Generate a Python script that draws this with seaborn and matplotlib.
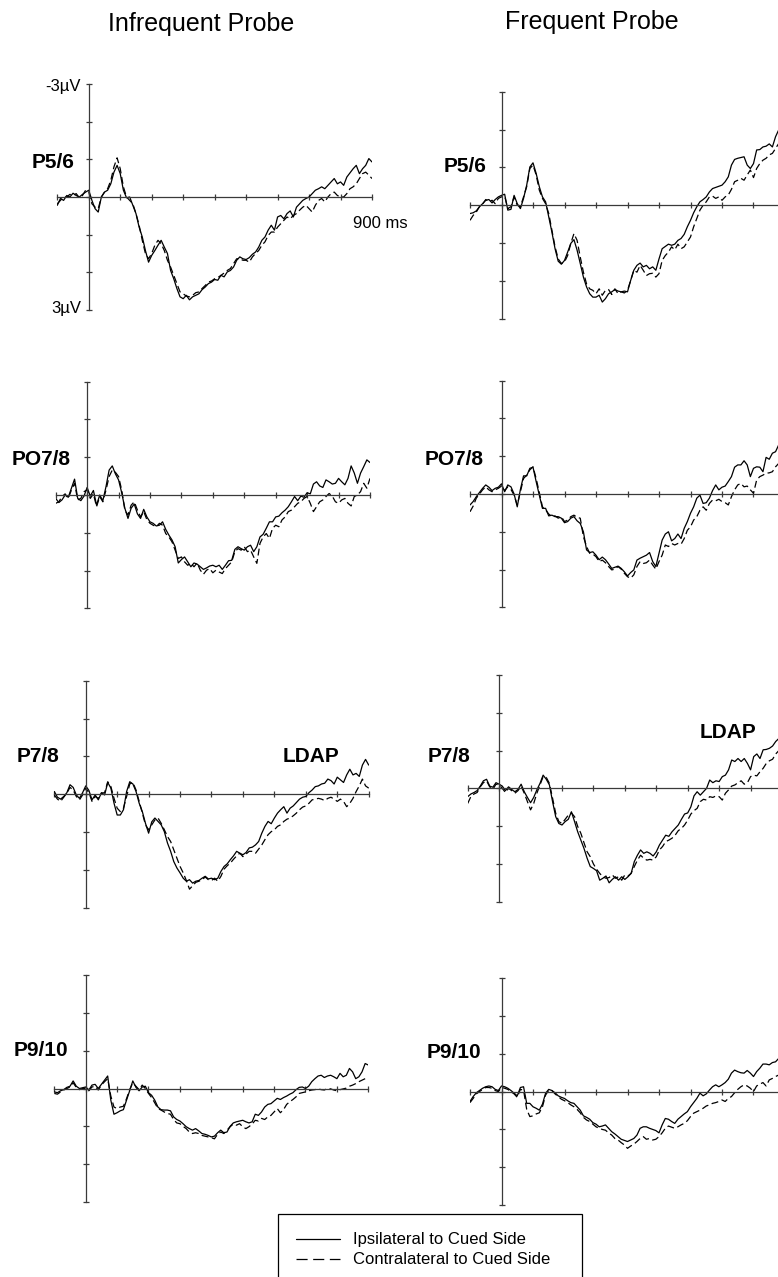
import matplotlib
matplotlib.use("Agg")
import matplotlib.pyplot as plt
from matplotlib.lines import Line2D
import pandas as pd
import seaborn as sns

# ---- data (µV, sampled every 10 ms from -100 to 900 ms) ----
TIME_MS = list(range(-100, 901, 10))

P56_INFREQ_IPSI = [
    0.22, 0.04, 0.09, -0.04, 0.0, -0.10, -0.04, 0.0, -0.07, -0.13,
    -0.18, 0.09, 0.31, 0.40, 0.0, -0.13, -0.18, -0.35, -0.66, -0.84,
    -0.62, -0.18, 0.02, 0.0, 0.22, 0.44, 0.80, 1.06, 1.42, 1.73,
    1.55, 1.42, 1.28, 1.15, 1.33, 1.50, 1.95, 2.17, 2.43, 2.65,
    2.70, 2.61, 2.73, 2.65, 2.61, 2.57, 2.46, 2.39, 2.30, 2.26,
    2.19, 2.21, 2.08, 2.12, 1.99, 1.95, 1.86, 1.68, 1.59, 1.64,
    1.66, 1.61, 1.52, 1.46, 1.33, 1.15, 1.06, 0.88, 0.75, 0.88,
    0.53, 0.49, 0.58, 0.44, 0.37, 0.53, 0.27, 0.18, 0.09, 0.04,
    0.0, -0.09, -0.18, -0.22, -0.27, -0.22, -0.31, -0.40, -0.49, -0.35,
    -0.40, -0.31, -0.53, -0.64, -0.75, -0.84, -0.62, -0.75, -0.84, -1.02,
    -0.93]
P56_INFREQ_CONTRA = [
    0.18, 0.09, 0.0, 0.0, -0.07, -0.04, -0.09, 0.02, -0.04, -0.18,
    -0.13, 0.18, 0.27, 0.31, 0.0, -0.13, -0.22, -0.44, -0.80, -1.04,
    -0.75, -0.27, 0.0, 0.09, 0.18, 0.44, 0.75, 1.15, 1.50, 1.64,
    1.50, 1.28, 1.15, 1.24, 1.42, 1.68, 1.86, 2.08, 2.30, 2.52,
    2.57, 2.63, 2.65, 2.61, 2.54, 2.52, 2.43, 2.35, 2.26, 2.23,
    2.17, 2.14, 2.08, 2.02, 1.95, 1.90, 1.77, 1.64, 1.64, 1.68,
    1.68, 1.73, 1.59, 1.50, 1.42, 1.28, 1.19, 1.02, 0.93, 0.93,
    0.80, 0.71, 0.62, 0.53, 0.58, 0.49, 0.44, 0.35, 0.27, 0.22,
    0.31, 0.40, 0.22, 0.09, 0.04, 0.13, 0.0, -0.09, -0.13, -0.04,
    0.0, 0.0, -0.09, -0.22, -0.27, -0.35, -0.49, -0.62, -0.66, -0.58,
    -0.49]
P56_FREQ_IPSI = [
    0.22, 0.20, 0.15, 0.04, -0.04, -0.13, -0.15, -0.06, -0.15, -0.22,
    -0.26, -0.29, 0.13, 0.11, -0.26, -0.04, 0.09, -0.18, -0.53, -1.01,
    -1.12, -0.84, -0.49, -0.22, -0.09, 0.31, 0.71, 1.15, 1.48, 1.56,
    1.46, 1.24, 1.01, 0.91, 1.19, 1.54, 1.90, 2.16, 2.34, 2.43,
    2.43, 2.38, 2.56, 2.47, 2.34, 2.29, 2.23, 2.27, 2.29, 2.27,
    2.29, 1.99, 1.72, 1.59, 1.53, 1.63, 1.59, 1.68, 1.63, 1.72,
    1.42, 1.15, 1.09, 1.03, 1.06, 1.03, 0.93, 0.88, 0.77, 0.57,
    0.40, 0.20, 0.04, -0.09, -0.15, -0.22, -0.35, -0.44, -0.47, -0.50,
    -0.53, -0.62, -0.75, -1.06, -1.21, -1.24, -1.26, -1.28, -1.06, -0.97,
    -1.10, -1.46, -1.47, -1.54, -1.56, -1.62, -1.54, -1.81, -1.99, -2.12,
    -2.25]
P56_FREQ_CONTRA = [
    0.40, 0.27, 0.18, 0.04, -0.03, -0.15, -0.09, -0.13, -0.04, -0.18,
    -0.22, -0.24, 0.09, 0.04, -0.22, 0.0, 0.04, -0.22, -0.49, -0.97,
    -1.06, -0.80, -0.40, -0.18, -0.04, 0.22, 0.66, 1.10, 1.42, 1.54,
    1.50, 1.33, 1.01, 0.75, 0.93, 1.37, 1.77, 2.08, 2.21, 2.25,
    2.34, 2.21, 2.38, 2.25, 2.23, 2.36, 2.21, 2.34, 2.29, 2.32,
    2.25, 1.99, 1.72, 1.77, 1.59, 1.72, 1.86, 1.81, 1.80, 1.90,
    1.81, 1.46, 1.33, 1.24, 1.10, 1.18, 1.03, 1.15, 1.10, 0.97,
    0.84, 0.57, 0.35, 0.13, 0.0, -0.09, -0.22, -0.24, -0.18, -0.22,
    -0.13, -0.22, -0.27, -0.42, -0.62, -0.66, -0.71, -0.66, -0.80, -0.93,
    -0.73, -0.97, -1.10, -1.19, -1.24, -1.33, -1.37, -1.50, -1.63, -1.72,
    -1.81]

PO78_INFREQ_IPSI = [
    0.09, 0.20, 0.13, 0.0, 0.06, -0.18, -0.42, 0.09, 0.15, 0.03,
    -0.20, 0.03, -0.12, 0.27, 0.0, 0.15, -0.22, -0.66, -0.77, -0.56,
    -0.40, -0.06, 0.35, 0.62, 0.35, 0.24, 0.50, 0.62, 0.38, 0.58,
    0.71, 0.75, 0.82, 0.80, 0.71, 0.91, 1.06, 1.19, 1.37, 1.80,
    1.71, 1.64, 1.77, 1.90, 1.80, 1.83, 1.90, 1.97, 1.93, 1.88,
    1.86, 1.90, 1.86, 1.97, 1.86, 1.74, 1.73, 1.44, 1.37, 1.42,
    1.46, 1.37, 1.33, 1.50, 1.37, 1.11, 1.04, 0.88, 0.71, 0.71,
    0.58, 0.56, 0.47, 0.40, 0.31, 0.18, 0.04, 0.15, 0.03, 0.06,
    -0.06, -0.03, -0.29, -0.35, -0.24, -0.20, -0.40, -0.35, -0.29, -0.31,
    -0.44, -0.35, -0.27, -0.44, -0.77, -0.58, -0.31, -0.58, -0.75, -0.93,
    -0.86]
PO78_INFREQ_CONTRA = [
    0.22, 0.18, 0.04, -0.03, 0.09, -0.13, -0.31, 0.13, 0.09, -0.09,
    -0.13, 0.09, -0.03, 0.31, 0.04, 0.18, -0.13, -0.49, -0.66, -0.60,
    -0.49, -0.13, 0.40, 0.53, 0.27, 0.18, 0.40, 0.58, 0.44, 0.65,
    0.75, 0.80, 0.84, 0.75, 0.80, 1.02, 1.11, 1.24, 1.46, 1.68,
    1.64, 1.77, 1.86, 1.81, 1.90, 1.80, 1.99, 2.10, 1.99, 1.95,
    2.06, 1.99, 2.04, 2.08, 1.95, 1.86, 1.77, 1.50, 1.42, 1.46,
    1.37, 1.50, 1.46, 1.64, 1.81, 1.28, 1.11, 1.02, 1.15, 0.88,
    0.80, 0.84, 0.66, 0.58, 0.44, 0.40, 0.31, 0.22, 0.18, 0.09,
    0.04, 0.22, 0.44, 0.31, 0.18, 0.13, 0.04, -0.04, 0.03, 0.18,
    0.22, 0.13, 0.09, 0.22, 0.29, 0.04, 0.0, -0.09, -0.31, -0.18,
    -0.44]
PO78_FREQ_IPSI = [
    0.29, 0.20, 0.07, -0.04, -0.15, -0.24, -0.18, -0.09, -0.15, -0.18,
    -0.27, -0.06, -0.24, -0.19, 0.0, 0.34, -0.12, -0.48, -0.48, -0.68,
    -0.71, -0.33, 0.03, 0.38, 0.38, 0.58, 0.56, 0.60, 0.60, 0.64,
    0.76, 0.73, 0.64, 0.60, 0.71, 0.78, 1.00, 1.48, 1.55, 1.53,
    1.62, 1.74, 1.67, 1.74, 1.85, 1.97, 1.94, 1.91, 1.97, 2.06,
    2.17, 2.08, 2.01, 1.75, 1.70, 1.66, 1.62, 1.55, 1.79, 1.92,
    1.57, 1.22, 1.06, 1.00, 1.24, 1.18, 1.06, 1.18, 0.91, 0.73,
    0.51, 0.34, 0.11, 0.03, 0.25, 0.23, 0.11, -0.09, -0.24, -0.11,
    -0.18, -0.21, -0.33, -0.46, -0.71, -0.77, -0.77, -0.88, -0.77, -0.46,
    -0.68, -0.72, -0.71, -0.59, -0.97, -0.92, -1.08, -1.12, -1.30, -1.39,
    -1.47]
PO78_FREQ_CONTRA = [
    0.47, 0.32, 0.11, 0.0, -0.11, -0.19, -0.11, -0.06, -0.11, -0.15,
    -0.21, -0.09, -0.19, -0.12, 0.03, 0.29, -0.06, -0.41, -0.50, -0.64,
    -0.72, -0.41, -0.04, 0.34, 0.42, 0.53, 0.60, 0.58, 0.64, 0.60,
    0.73, 0.69, 0.60, 0.56, 0.62, 0.64, 1.13, 1.39, 1.57, 1.59,
    1.66, 1.79, 1.75, 1.82, 1.92, 2.01, 1.99, 1.92, 1.99, 2.10,
    2.19, 2.23, 2.14, 1.92, 1.79, 1.84, 1.82, 1.75, 1.88, 1.99,
    1.79, 1.62, 1.35, 1.39, 1.31, 1.35, 1.31, 1.33, 1.18, 0.96,
    0.87, 0.69, 0.60, 0.43, 0.34, 0.43, 0.25, 0.16, 0.18, 0.14,
    0.20, 0.23, 0.29, 0.07, -0.11, -0.24, -0.28, -0.19, -0.21, -0.11,
    -0.02, -0.37, -0.46, -0.50, -0.55, -0.56, -0.59, -0.72, -0.81, -0.85,
    -0.90]

P78_INFREQ_IPSI = [
    -0.07, 0.08, 0.13, 0.06, -0.04, -0.25, -0.18, 0.02, 0.11, -0.04,
    -0.22, -0.10, 0.15, 0.02, 0.15, -0.04, 0.02, -0.31, -0.16, 0.24,
    0.55, 0.55, 0.41, -0.07, -0.33, -0.27, -0.07, 0.24, 0.46, 0.77,
    1.03, 0.73, 0.63, 0.72, 0.81, 0.99, 1.29, 1.51, 1.78, 1.95,
    2.08, 2.22, 2.30, 2.26, 2.35, 2.30, 2.28, 2.22, 2.17, 2.24,
    2.22, 2.26, 2.22, 2.04, 1.91, 1.84, 1.73, 1.63, 1.51, 1.56,
    1.60, 1.54, 1.42, 1.40, 1.34, 1.25, 1.03, 0.85, 0.72, 0.78,
    0.63, 0.50, 0.41, 0.33, 0.50, 0.37, 0.31, 0.22, 0.13, 0.08,
    0.06, -0.04, -0.11, -0.20, -0.22, -0.27, -0.29, -0.40, -0.36, -0.27,
    -0.45, -0.38, -0.31, -0.51, -0.66, -0.51, -0.55, -0.47, -0.77, -0.92,
    -0.77]
P78_INFREQ_CONTRA = [
    0.02, 0.13, 0.19, 0.08, -0.03, -0.18, -0.11, 0.06, 0.15, 0.02,
    -0.16, -0.04, 0.19, 0.06, 0.11, -0.03, -0.04, -0.33, -0.20, 0.11,
    0.37, 0.46, 0.37, 0.06, -0.27, -0.31, -0.11, 0.19, 0.50, 0.81,
    0.94, 0.81, 0.68, 0.63, 0.77, 0.94, 1.12, 1.25, 1.47, 1.69,
    1.91, 2.08, 2.28, 2.51, 2.42, 2.33, 2.30, 2.26, 2.19, 2.26,
    2.28, 2.22, 2.30, 2.17, 1.98, 1.89, 1.82, 1.72, 1.63, 1.56,
    1.65, 1.58, 1.51, 1.51, 1.56, 1.45, 1.34, 1.20, 1.07, 0.99,
    0.94, 0.85, 0.81, 0.72, 0.66, 0.63, 0.57, 0.50, 0.41, 0.34,
    0.31, 0.24, 0.15, 0.13, 0.11, 0.13, 0.17, 0.11, 0.08, 0.13,
    0.19, 0.13, 0.19, 0.33, 0.24, 0.11, -0.07, -0.22, -0.40, -0.22,
    -0.16]
P78_FREQ_IPSI = [
    0.22, 0.15, 0.11, 0.06, -0.06, -0.20, -0.24, -0.06, -0.03, -0.15,
    -0.11, -0.06, 0.06, -0.04, 0.03, 0.09, 0.03, -0.11, 0.09, 0.24,
    0.38, 0.24, 0.04, -0.13, -0.35, -0.24, -0.09, 0.35, 0.75, 0.93,
    0.97, 0.88, 0.82, 0.62, 0.88, 1.15, 1.37, 1.59, 1.85, 2.07,
    2.12, 2.18, 2.43, 2.38, 2.32, 2.50, 2.41, 2.34, 2.43, 2.34,
    2.41, 2.34, 2.25, 1.94, 1.77, 1.63, 1.72, 1.68, 1.72, 1.79,
    1.68, 1.50, 1.37, 1.24, 1.27, 1.15, 1.06, 0.97, 0.82, 0.68,
    0.65, 0.49, 0.20, 0.09, 0.18, 0.09, 0.0, -0.22, -0.15, -0.20,
    -0.18, -0.31, -0.35, -0.49, -0.75, -0.71, -0.79, -0.71, -0.79, -0.66,
    -0.49, -0.84, -0.91, -0.79, -1.02, -1.03, -1.06, -1.12, -1.24, -1.32,
    -1.41]
P78_FREQ_CONTRA = [
    0.40, 0.22, 0.15, 0.11, -0.04, -0.15, -0.20, -0.04, 0.03, -0.11,
    -0.09, 0.0, 0.11, 0.0, 0.06, 0.13, 0.06, -0.06, 0.13, 0.35,
    0.57, 0.40, 0.13, -0.09, -0.31, -0.29, -0.13, 0.26, 0.66, 0.88,
    0.93, 0.82, 0.71, 0.65, 0.75, 1.01, 1.19, 1.44, 1.68, 1.81,
    2.00, 2.14, 2.25, 2.34, 2.38, 2.36, 2.29, 2.38, 2.34, 2.43,
    2.29, 2.32, 2.25, 2.07, 1.90, 1.77, 1.85, 1.90, 1.88, 1.90,
    1.81, 1.63, 1.54, 1.41, 1.37, 1.32, 1.24, 1.12, 1.06, 0.97,
    0.84, 0.68, 0.59, 0.53, 0.35, 0.29, 0.31, 0.22, 0.24, 0.20,
    0.22, 0.31, 0.13, 0.04, -0.06, -0.09, -0.15, -0.20, -0.11, -0.15,
    -0.31, -0.35, -0.33, -0.44, -0.53, -0.66, -0.73, -0.77, -0.91, -1.00,
    -1.09]

P910_INFREQ_IPSI = [
    0.09, 0.11, 0.06, 0.03, -0.03, -0.06, -0.20, -0.06, 0.0, -0.02,
    -0.04, 0.04, -0.09, -0.11, 0.0, -0.11, -0.22, -0.33, 0.31, 0.68,
    0.64, 0.59, 0.56, 0.31, 0.06, -0.20, -0.03, 0.06, -0.04, -0.06,
    0.11, 0.18, 0.31, 0.49, 0.56, 0.57, 0.57, 0.59, 0.75, 0.82,
    0.86, 0.93, 1.01, 1.06, 1.10, 1.06, 1.12, 1.19, 1.21, 1.24,
    1.28, 1.26, 1.17, 1.10, 1.17, 1.15, 1.00, 0.91, 0.88, 0.86,
    0.84, 0.88, 0.91, 0.88, 0.68, 0.71, 0.62, 0.49, 0.42, 0.40,
    0.33, 0.26, 0.29, 0.24, 0.20, 0.15, 0.11, 0.03, -0.03, -0.04,
    0.0, -0.06, -0.18, -0.26, -0.33, -0.35, -0.29, -0.33, -0.35, -0.31,
    -0.26, -0.40, -0.31, -0.35, -0.53, -0.44, -0.26, -0.31, -0.44, -0.66,
    -0.62]
P910_INFREQ_CONTRA = [
    0.13, 0.15, 0.09, 0.04, 0.0, -0.04, -0.15, -0.03, 0.03, 0.0,
    0.0, 0.06, -0.04, -0.06, 0.04, -0.09, -0.18, -0.26, 0.20, 0.49,
    0.53, 0.49, 0.47, 0.27, 0.03, -0.15, -0.06, 0.03, -0.09, 0.0,
    0.13, 0.24, 0.38, 0.53, 0.57, 0.62, 0.66, 0.68, 0.82, 0.91,
    0.93, 1.00, 1.06, 1.15, 1.19, 1.17, 1.19, 1.24, 1.26, 1.28,
    1.30, 1.33, 1.21, 1.15, 1.19, 1.10, 1.01, 0.94, 0.97, 0.93,
    1.01, 1.06, 1.01, 0.94, 0.84, 0.86, 0.79, 0.82, 0.75, 0.71,
    0.62, 0.53, 0.64, 0.56, 0.42, 0.35, 0.29, 0.22, 0.13, 0.11,
    0.09, 0.06, 0.04, 0.03, 0.01, 0.03, 0.04, 0.0, 0.01, 0.04,
    0.06, 0.03, 0.01, -0.01, -0.06, -0.09, -0.13, -0.18, -0.22, -0.26,
    -0.26]
P910_FREQ_IPSI = [
    0.26, 0.13, 0.03, -0.03, -0.09, -0.13, -0.15, -0.13, -0.06, -0.03,
    -0.15, -0.13, -0.09, -0.03, 0.04, 0.11, -0.11, -0.13, 0.31, 0.31,
    0.40, 0.44, 0.49, 0.33, 0.04, -0.06, -0.03, 0.03, 0.11, 0.15,
    0.18, 0.24, 0.29, 0.31, 0.40, 0.49, 0.64, 0.68, 0.73, 0.82,
    0.86, 0.93, 0.91, 0.88, 0.97, 1.06, 1.12, 1.19, 1.26, 1.29,
    1.32, 1.28, 1.24, 1.15, 0.97, 0.93, 0.93, 0.97, 1.00, 1.03,
    1.09, 0.88, 0.71, 0.73, 0.79, 0.84, 0.73, 0.66, 0.59, 0.53,
    0.40, 0.29, 0.18, 0.04, 0.11, 0.06, -0.04, -0.13, -0.18, -0.13,
    -0.18, -0.24, -0.33, -0.49, -0.57, -0.53, -0.50, -0.49, -0.56, -0.49,
    -0.40, -0.53, -0.62, -0.73, -0.73, -0.71, -0.77, -0.79, -0.88, -0.93,
    -0.97]
P910_FREQ_CONTRA = [
    0.29, 0.18, 0.06, 0.0, -0.06, -0.11, -0.11, -0.09, -0.03, 0.0,
    -0.11, -0.09, -0.06, 0.0, 0.06, 0.15, -0.06, -0.04, 0.47, 0.66,
    0.64, 0.59, 0.56, 0.40, 0.09, -0.04, -0.03, 0.06, 0.13, 0.20,
    0.24, 0.29, 0.35, 0.40, 0.47, 0.56, 0.68, 0.75, 0.79, 0.86,
    0.93, 0.97, 1.00, 1.02, 1.09, 1.15, 1.24, 1.28, 1.35, 1.41,
    1.50, 1.44, 1.39, 1.32, 1.24, 1.19, 1.26, 1.24, 1.28, 1.26,
    1.19, 1.09, 0.97, 0.91, 0.94, 0.97, 0.93, 0.88, 0.84, 0.77,
    0.66, 0.57, 0.53, 0.49, 0.44, 0.38, 0.35, 0.31, 0.29, 0.26,
    0.22, 0.26, 0.18, 0.13, 0.03, -0.06, -0.13, -0.18, -0.15, -0.09,
    0.0, -0.15, -0.20, -0.24, -0.15, -0.31, -0.35, -0.40, -0.44, -0.49,
    -0.50]

COLUMN_TITLES = ["Infrequent Probe", "Frequent Probe"]
CHANNELS = ["P5/6", "PO7/8", "P7/8", "P9/10"]
LEGEND_LABELS = ["Ipsilateral to Cued Side", "Contralateral to Cued Side"]
X_TICKS = list(range(-100, 901, 100))
Y_TICKS = [-3, -2, -1, 0, 1, 2, 3]

# ---- layout (figure pixels) ----
W, H = 778, 1277
# (series pair, x of -100 ms, x of 900 ms, y of -3 µV, y of +3 µV, label x, label y)
PANELS = [
    (P56_INFREQ_IPSI, P56_INFREQ_CONTRA, 57.3, 372.0, 84.0, 310.0, 32, 163),
    (P56_FREQ_IPSI, P56_FREQ_CONTRA, 470.0, 785.0, 91.7, 318.7, 444, 167),
    (PO78_INFREQ_IPSI, PO78_INFREQ_CONTRA, 55.7, 370.0, 381.7, 608.3, 12, 460),
    (PO78_FREQ_IPSI, PO78_FREQ_CONTRA, 470.0, 785.0, 380.7, 607.3, 425, 460),
    (P78_INFREQ_IPSI, P78_INFREQ_CONTRA, 54.3, 368.7, 680.7, 907.7, 17, 757),
    (P78_FREQ_IPSI, P78_FREQ_CONTRA, 467.7, 782.0, 675.0, 901.7, 428, 757),
    (P910_INFREQ_IPSI, P910_INFREQ_CONTRA, 54.3, 368.3, 975.0, 1202.0, 14, 1050),
    (P910_FREQ_IPSI, P910_FREQ_CONTRA, 470.0, 785.0, 978.3, 1205.0, 427, 1052),
]
DASH = (0, (5, 2.6))

sns.set_style("white")
plt.rcParams.update({
    "font.family": ["Liberation Sans", "DejaVu Sans"],
    "text.color": "black",
    "lines.scale_dashes": False,
})

fig = plt.figure(figsize=(W / 100, H / 100), dpi=100)


def fx(x):
    return x / W


def fy(y):
    return 1 - y / H


def draw_panel(ipsi, contra, x0, x1, y0, y1):
    ax = fig.add_axes([fx(x0), fy(y1), (x1 - x0) / W, (y1 - y0) / H])
    df = pd.DataFrame({"time": TIME_MS, "ipsi": ipsi, "contra": contra})
    sns.lineplot(data=df, x="time", y="ipsi", ax=ax, color="black",
                 lw=0.9, estimator=None)
    sns.lineplot(data=df, x="time", y="contra", ax=ax, color="black",
                 lw=0.9, estimator=None, linestyle=DASH)
    ax.set_xlim(-100, 900)
    ax.set_ylim(3, -3)          # negative up
    ax.patch.set_alpha(0)
    for side in ("top", "right"):
        ax.spines[side].set_visible(False)
    for side in ("left", "bottom"):
        ax.spines[side].set_position(("data", 0))
        ax.spines[side].set_color("#3a3a3a")
        ax.spines[side].set_linewidth(0.9)
    ax.set_xticks(X_TICKS)
    ax.set_yticks(Y_TICKS)
    ax.tick_params(bottom=True, left=True, direction="inout", length=5,
                   width=0.9, color="#3a3a3a",
                   labelbottom=False, labelleft=False)
    ax.set_xlabel("")
    ax.set_ylabel("")
    return ax


for i, (ipsi, contra, x0, x1, y0, y1, lx, ly) in enumerate(PANELS):
    draw_panel(ipsi, contra, x0, x1, y0, y1)
    fig.text(fx(lx), fy(ly), CHANNELS[i // 2], fontsize=15,
             fontweight="bold", ha="left", va="center")

# column titles
fig.text(fx(201), fy(24), COLUMN_TITLES[0], fontsize=18, ha="center", va="center")
fig.text(fx(592), fy(22), COLUMN_TITLES[1], fontsize=18, ha="center", va="center")

# scale annotations on first panel
fig.text(fx(81), fy(86), "-3µV", fontsize=12, ha="right", va="center")
fig.text(fx(81), fy(309), "3µV", fontsize=12, ha="right", va="center")
fig.text(fx(353), fy(223), "900 ms", fontsize=12, ha="left", va="center")

# LDAP labels
fig.text(fx(283), fy(757), "LDAP", fontsize=15, fontweight="bold",
         ha="left", va="center")
fig.text(fx(700), fy(732), "LDAP", fontsize=15, fontweight="bold",
         ha="left", va="center")

handles = [
    Line2D([], [], color="black", lw=0.9, label=LEGEND_LABELS[0]),
    Line2D([], [], color="black", lw=0.9, linestyle=(0, (8, 4)),
           label=LEGEND_LABELS[1]),
]
leg = fig.legend(handles=handles, loc="upper left",
                 bbox_to_anchor=(fx(278), 0, 304 / W, fy(1214)),
                 mode="expand", frameon=True, fancybox=False,
                 edgecolor="black", framealpha=1, fontsize=12,
                 handlelength=2.6, handletextpad=0.8, borderpad=1.1,
                 labelspacing=0.3, borderaxespad=0)
leg.get_frame().set_linewidth(0.9)
for txt in leg.get_texts():
    txt.set_color("black")

fig.savefig("out.png", dpi=100)
plt.close(fig)
